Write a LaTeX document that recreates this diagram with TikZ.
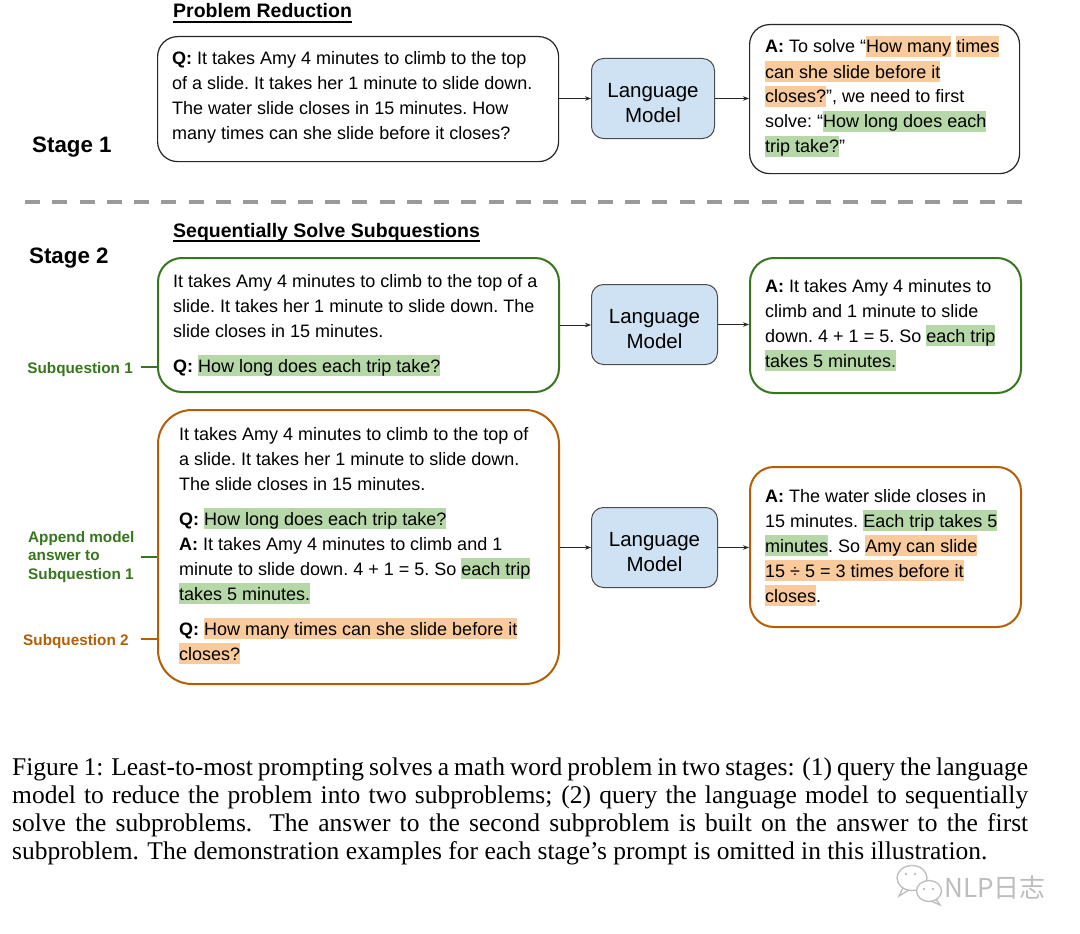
\documentclass[tikz,border=0pt]{standalone}
\usepackage{fontspec}
\setmainfont{Liberation Sans}
\newfontfamily\capfont{Liberation Serif}
\newfontfamily\cjkfont{Noto Sans CJK SC}
\usetikzlibrary{arrows.meta}
\definecolor{hlgreen}{HTML}{B6D7A8}
\definecolor{hlorange}{HTML}{F9CB9C}
\definecolor{lmblue}{HTML}{CFE2F3}
\definecolor{dgreen}{HTML}{38761D}
\definecolor{dorange}{HTML}{B45F06}
\definecolor{dashgray}{HTML}{9A9A9A}
\definecolor{wmgray}{HTML}{BDBDBD}
\newcommand\hlg[1]{{\setlength{\fboxsep}{0pt}\colorbox{hlgreen}{\rule[-4pt]{0pt}{21pt}#1}}}
\newcommand\hlo[1]{{\setlength{\fboxsep}{0pt}\colorbox{hlorange}{\rule[-4pt]{0pt}{21pt}#1}}}
\newcommand\tlines[1]{\begin{tabular}[t]{@{}l@{}}#1\end{tabular}}
\tikzset{
  frame/.style={draw=black!85, line width=1.2pt, anchor=north west, inner sep=0pt},
  blackbox/.style={frame, rounded corners=20pt},
  greenbox/.style={frame, draw=dgreen, line width=2pt, rounded corners=24pt},
  orangebox/.style={frame, draw=dorange, line width=2pt, rounded corners=#1},
  lmbox/.style={draw=black!70, fill=lmblue, line width=1pt, rounded corners=12pt,
    anchor=north west, inner sep=0pt, font=\fontsize{20.5}{25}\selectfont},
  lmtext/.style={align=center, inner sep=0pt, font=\fontsize{20.5}{25}\selectfont},
  txt/.style={inner sep=0pt, anchor=base west, font=\fontsize{18}{25}\selectfont\frenchspacing},
  arr/.style={-{Stealth[length=6pt,width=4.5pt]}, line width=0.9pt, black!85},
  stagelab/.style={inner sep=0pt, anchor=base west, font=\fontsize{22.3}{26}\selectfont\bfseries},
  titlelab/.style={inner sep=0pt, anchor=base west, font=\fontsize{19.5}{24}\selectfont\bfseries},
  sidelab/.style={inner sep=0pt, font=\fontsize{15.3}{18.5}\selectfont\bfseries},
  tick/.style={line width=1.2pt},
}
\begin{document}
\begin{tikzpicture}[x=1pt,y=-1pt]
\useasboundingbox (0,0) rectangle (1080,934);
\fill[white] (0,0) rectangle (1080,934);

% ---------- Stage 1 ----------
\node[titlelab] (t1) at (173,18) {Problem Reduction};
\draw[line width=1.4pt] ([yshift=-4pt]t1.base west) -- ([yshift=-4pt]t1.base east);
\node[stagelab] (s1) at (32,152) {Stage 1};

\node[blackbox, minimum width=401pt, minimum height=125pt] (q1) at (157,36) {};
\node[txt] (q1t) at (172,65) {\tlines{\textbf{Q:} It takes Amy 4 minutes to climb to the top\\
of a slide. It takes her 1 minute to slide down.\\
The water slide closes in 15 minutes. How\\
many times can she slide before it closes?}};

\node[lmbox, minimum width=123pt, minimum height=80pt] (lm1) at (591,58) {};
\node[lmtext] (lm1t) at ([yshift=-5pt]lm1.center) {Language\\Model};

\node[blackbox, minimum width=270pt, minimum height=149pt] (a1) at (749,24) {};
\node[txt] (a1t) at (765,53) {\tlines{\textbf{A:} To solve “\hlo{How many} \hlo{times}\\
\hlo{can she slide before it}\\
\hlo{closes?}”, we need to first\\
solve: “\hlg{How long does each}\\
\hlg{trip take?}”}};

\draw[arr] (lm1.west -| q1.east) -- (lm1.west);
\draw[arr] (lm1.east) -- (lm1.east -| a1.west);

% ---------- separator ----------
\coordinate (d1) at (25,202);
\coordinate (d2) at (1022,202);
\draw[dashgray, line width=3.5pt, dash pattern=on 15pt off 12.28pt] (d1) -- (d2);

% ---------- Stage 2 ----------
\node[titlelab] (t2) at (173,237) {Sequentially Solve Subquestions};
\draw[line width=1.4pt] ([yshift=-4pt]t2.base west) -- ([yshift=-4pt]t2.base east);
\node[stagelab] (s2) at (29,263) {Stage 2};

% row 1
\node[greenbox, minimum width=401pt, minimum height=134pt] (q2) at (157,257) {};
\node[txt] (q2t) at (173,287) {\tlines{It takes Amy 4 minutes to climb to the top of a\\
slide. It takes her 1 minute to slide down. The\\
slide closes in 15 minutes.\\[10pt]
\textbf{Q:} \hlg{How long does each trip take?}}};

\node[lmbox, minimum width=126pt, minimum height=80pt] (lm2) at (591,284) {};
\node[lmtext] (lm2t) at ([yshift=-5pt]lm2.center) {Language\\Model};

\node[greenbox, minimum width=271pt, minimum height=135pt] (a2) at (749,257) {};
\node[txt] (a2t) at (765,292) {\tlines{\textbf{A:} It takes Amy 4 minutes to\\
climb and 1 minute to slide\\
down. 4 + 1 = 5. So \hlg{each trip}\\
\hlg{takes 5 minutes.}}};

\draw[arr] (q2.east) -- (q2.east -| lm2.west);
\draw[arr] (lm2.east) -- (lm2.east -| a2.west);

\node[sidelab, text=dgreen, anchor=base east] (l1) at (133,373) {Subquestion 1};
\coordinate (l1e) at (141,367);
\draw[tick, dgreen] (l1e) -- (l1e -| q2.west);

% row 2
\node[orangebox=34pt, minimum width=401pt, minimum height=274pt] (q3) at (157,409) {};
\node[txt] (q3t) at (179,440) {\tlines{It takes Amy 4 minutes to climb to the top of\\
a slide. It takes her 1 minute to slide down.\\
The slide closes in 15 minutes.\\[10pt]
\textbf{Q:} \hlg{How long does each trip take?}\\
\textbf{A:} It takes Amy 4 minutes to climb and 1\\
minute to slide down. 4 + 1 = 5. So \hlg{each trip}\\
\hlg{takes 5 minutes.}\\[10pt]
\textbf{Q:} \hlo{How many times can she slide before it}\\
\hlo{closes?}}};

\node[lmbox, minimum width=126pt, minimum height=80pt] (lm3) at (591,507) {};
\node[lmtext] (lm3t) at ([yshift=-5pt]lm3.center) {Language\\Model};

\node[orangebox=24pt, minimum width=271pt, minimum height=160pt] (a3) at (749,466) {};
\node[txt] (a3t) at (765,502) {\tlines{\textbf{A:} The water slide closes in\\
15 minutes. \hlg{Each trip takes 5}\\
\hlg{minutes}. So \hlo{Amy can slide}\\
\hlo{15 ÷ 5 = 3 times before it}\\
\hlo{closes}.}};

\draw[arr] (lm3.west -| q3.east) -- (lm3.west);
\draw[arr] (lm3.east) -- (lm3.east -| a3.west);

\node[sidelab, text=dgreen, anchor=base west] (l2) at (28,542) {\tlines{Append model\\answer to\\Subquestion 1}};
\coordinate (l2e) at (141,557);
\draw[tick, dgreen] (l2e) -- (l2e -| q3.west);

\node[sidelab, text=dorange, anchor=base west] (l3) at (23,645) {Subquestion 2};
\coordinate (l3e) at (141,639);
\draw[tick, dorange] (l3e) -- (l3e -| q3.west);

% ---------- caption ----------
\node[inner sep=0pt, anchor=base west] (cap) at (12,775) {\parbox[t]{1016pt}{\capfont\fontsize{25.5}{28}\selectfont
Figure 1: Least-to-most prompting solves a math word problem in two stages: (1) query the language\linebreak
model to reduce the problem into two subproblems; (2) query the language model to sequentially\linebreak
solve the subproblems. The answer to the second subproblem is built on the answer to the first\linebreak
subproblem. The demonstration examples for each stage’s prompt is omitted in this illustration.}};

% ---------- watermark ----------
\begin{scope}[wmgray, line width=1.3pt]
\draw[fill=white] (912,878) ellipse [x radius=15, y radius=12.5];
\draw (903,888) -- (899,896) -- (909,890);
\draw[fill=white] (929,891) ellipse [x radius=12.5, y radius=10.5];
\draw (936,899) -- (940,905) -- (931,901);
\fill (906,874) circle (1.4pt) (915,874) circle (1.4pt);
\fill (924,889) circle (1.3pt) (933,889) circle (1.3pt);
\end{scope}
\node[inner sep=0pt, anchor=base west, text=wmgray, font=\cjkfont\fontsize{26}{30}\selectfont] (wm) at (944,897) {NLP日志};
\end{tikzpicture}
\end{document}
